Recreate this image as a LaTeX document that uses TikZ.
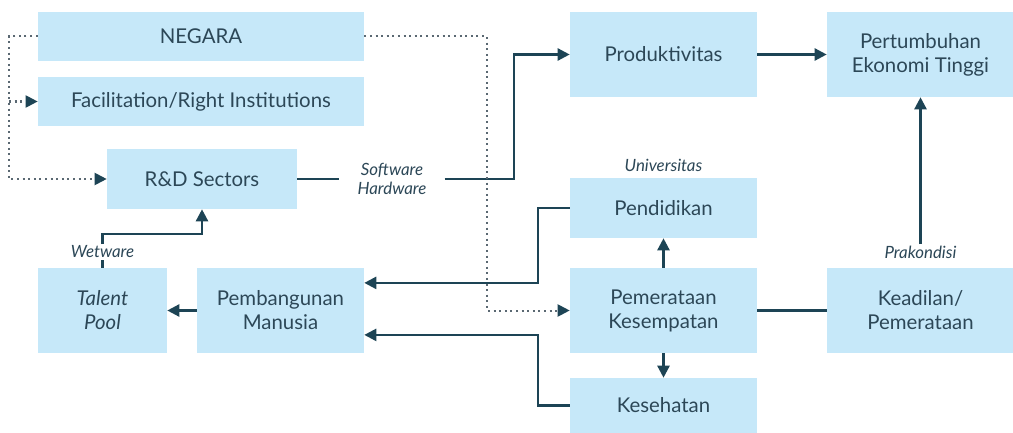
\documentclass[tikz,border=0pt]{standalone}
\usepackage{fontspec}
\setmainfont{Lato}
\usetikzlibrary{arrows.meta,positioning}
\definecolor{boxblue}{HTML}{C6E8F9}
\definecolor{inkdark}{HTML}{2C4757}
\definecolor{linedark}{HTML}{1D4455}
\definecolor{dotgray}{HTML}{5A6872}
\tikzset{
  box/.style={rectangle, fill=boxblue, text=inkdark, align=center, inner sep=2pt, font=\fontsize{14.5}{17}\selectfont},
  lbl/.style={fill=white, text=inkdark, inner sep=1pt, align=center, font=\fontsize{12}{13.5}\selectfont\itshape},
  arr/.style={-{Triangle[length=0.3cm,width=0.3cm]}, line width=0.06cm, linedark},
  link/.style={line width=0.06cm, linedark},
  dots/.style={dash pattern=on 0.05cm off 0.09cm, line width=0.05cm, dotgray},
  dotarr/.style={dots, -{Triangle[length=0.3cm,width=0.3cm,color=linedark]}}
}

\begin{document}
\begin{tikzpicture}[x=0.025cm, y=-0.025cm]
        \useasboundingbox (0,0) rectangle (1013,433);
        % Left column boxes
        \node[box, minimum width=8.15cm, minimum height=1.225cm] (negara) at (201,36.5) {NEGARA};
        \node[box, minimum width=8.15cm, minimum height=1.225cm] (facil) at (201,101.5) {Facilitation/Right Institutions};
        \node[box, minimum width=4.75cm, minimum height=1.5cm] (rnd) at (202,179) {R\&D Sectors};
        \node[box, minimum width=3.225cm, minimum height=2.125cm] (talent) at (102.5,310.5) {\itshape Talent\\\itshape Pool};
        \node[box, minimum width=4.175cm, minimum height=2.125cm] (pemb) at (280.5,310.5) {Pembangunan\\Manusia};

        % Middle and right boxes
        \node[box, minimum width=4.675cm, minimum height=2.125cm] (prod) at (663.5,54.5) {Produktivitas};
        \node[box, minimum width=4.675cm, minimum height=2.125cm] (pert) at (920.5,54.5) {Pertumbuhan\\Ekonomi Tinggi};
        \node[box, minimum width=4.675cm, minimum height=1.5cm] (pend) at (663.5,208) {Pendidikan};
        \node[box, minimum width=4.675cm, minimum height=2.125cm] (pemk) at (663.5,310.5) {Pemerataan\\Kesempatan};
        \node[box, minimum width=4.675cm, minimum height=1.375cm] (kes) at (663.5,405.5) {Kesehatan};
        \node[box, minimum width=4.675cm, minimum height=2.125cm] (kead) at (920.5,310.5) {Keadilan/\\Pemerataan};

        % Small italic labels
        \node[lbl, inner xsep=0.45cm] (swhw) at (392,179) {Software\\Hardware};
        \node[lbl] (wet) at (102.5,252) {Wetware};
        \node[lbl] (univ) at (663.5,165) {Universitas};
        \node[lbl] (prak) at (920.5,252) {Prakondisi};

        % Solid connections
        \draw[link] (rnd.east) -- (swhw.west);
        \draw[arr] (swhw.east) -- (514,179) |- (prod.west);
        \draw[arr] (prod) -- (pert);
        \draw[link] (talent.north) -- (wet.south);
        \draw[arr] (wet.north) -- (102.5,234) -| (rnd.south);
        \draw[arr] (pemb) -- (talent);
        \draw[arr] (pend.west) -- (538,208) |- ([yshift=0.69cm]pemb.east);
        \draw[arr] (kes.west) -- (538,405.5) |- ([yshift=-0.61cm]pemb.east);
        \draw[arr] (pemk) -- (pend);
        \draw[arr] (pemk) -- (kes);
        \draw[link] (pemk) -- (kead);
        \draw[arr] (prak) -- (pert);

        % Dotted links from NEGARA
        \draw[dotarr] (negara.west) -- (9,36.5) |- (rnd.west);
        \draw[dotarr] (9,101.5) -- (facil.west);
        \draw[dotarr] (negara.east) -- (487,36.5) |- (pemk.west);
    \end{tikzpicture}
\end{document}
